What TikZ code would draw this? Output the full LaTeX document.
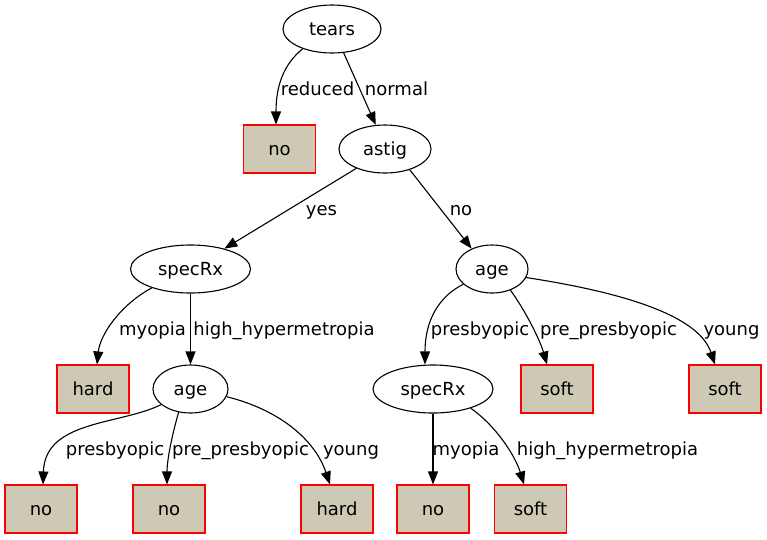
\documentclass[tikz,border=0pt]{standalone}
\usepackage{fontspec}
\setmainfont{DejaVu Sans}
\usetikzlibrary{arrows.meta,shapes.geometric}
\definecolor{leaffill}{RGB}{205,201,180}
\definecolor{leafline}{RGB}{255,0,0}
\begin{document}
\begin{tikzpicture}[x=1pt,y=-1pt,
  every node/.style={font=\fontsize{18}{21}\selectfont, inner sep=0pt},
  testnode/.style={draw, ellipse, line width=1.1pt, text height=14pt, text depth=2pt},
  leaf/.style={draw=leafline, fill=leaffill, line width=1.1pt, minimum width=72pt, minimum height=48pt, text height=14pt, text depth=2pt},
  conn/.style={line width=1.1pt, -{Triangle[length=13pt,width=10pt]}},
  lab/.style={anchor=base}]
\useasboundingbox (0,0) rectangle (767,539);
% nodes
\node[testnode, minimum width=98pt, minimum height=48pt] (tears) at (332,29) {tears};
\node[leaf] (no1) at (279.5,149) {no};
\node[testnode, minimum width=92pt, minimum height=48pt] (astig) at (385,149) {astig};
\node[testnode, minimum width=120pt, minimum height=48pt] (spec1) at (190.5,269) {specRx};
\node[testnode, minimum width=72pt, minimum height=48pt] (age2) at (492,269) {age};
\node[leaf] (hard1) at (93,389) {hard};
\node[testnode, minimum width=75pt, minimum height=48pt] (age1) at (190.5,389) {age};
\node[testnode, minimum width=120pt, minimum height=48pt] (spec2) at (433,389) {specRx};
\node[leaf] (soft1) at (557,389) {soft};
\node[leaf] (soft2) at (725,389) {soft};
\node[leaf] (no2) at (41,509) {no};
\node[leaf] (no3) at (169,509) {no};
\node[leaf] (hard2) at (337,509) {hard};
\node[leaf] (no4) at (433,509) {no};
\node[leaf] (soft3) at (530.5,509) {soft};
% edges
\draw[conn] (tears.-146) .. controls (284,64) and (276,85) .. ([xshift=-3.5pt]no1.north);
\draw[conn] (tears.-64) -- (astig.111);
\draw[conn] (astig.-146) -- (spec1.31.6);
\draw[conn] (astig.-40) -- (age2.135);
\draw[conn] (spec1.-154) .. controls (120,305) and (100,335) .. ([xshift=4pt]hard1.north);
\draw[conn] (spec1.south) -- (age1.north);
\draw[conn] (age2.-152) .. controls (432,300) and (425,330) .. ([xshift=-8pt]spec2.north);
\draw[conn] (age2.-49) .. controls (525,310) and (540,340) .. ([xshift=-10pt]soft1.north);
\draw[conn] (age2.-14) .. controls (640,295) and (700,320) .. ([xshift=-10pt]soft2.north);
\draw[conn] (age1.-152) .. controls (120,425) and (45,420) .. ([xshift=2pt]no2.north);
\draw[conn] (age1.-117) .. controls (172,435) and (167,460) .. ([xshift=-2pt]no3.north);
\draw[conn] (age1.-12) .. controls (280,410) and (315,440) .. ([xshift=-7pt]hard2.north);
\draw[conn] (spec2.south) -- (no4.north);
\draw[conn] (spec2.-27) .. controls (495,425) and (515,455) .. ([xshift=-6.5pt]soft3.north);
% labels
\node[lab] (l1) at (317.5,95) {reduced};
\node[lab] (l2) at (396.5,95) {normal};
\node[lab] (l3) at (321.5,215) {yes};
\node[lab] (l4) at (461,215) {no};
\node[lab] (l5) at (152.5,335) {myopia};
\node[lab] (l6) at (284,335) {high\_hypermetropia};
\node[lab] (l7) at (480,335) {presbyopic};
\node[lab] (l8) at (608.5,335) {pre\_presbyopic};
\node[lab] (l9) at (731.5,335) {young};
\node[lab] (l10) at (115,455) {presbyopic};
\node[lab] (l11) at (240.5,455) {pre\_presbyopic};
\node[lab] (l12) at (351,455) {young};
\node[lab] (l13) at (466,455) {myopia};
\node[lab] (l14) at (607.5,455) {high\_hypermetropia};
\end{tikzpicture}
\end{document}
